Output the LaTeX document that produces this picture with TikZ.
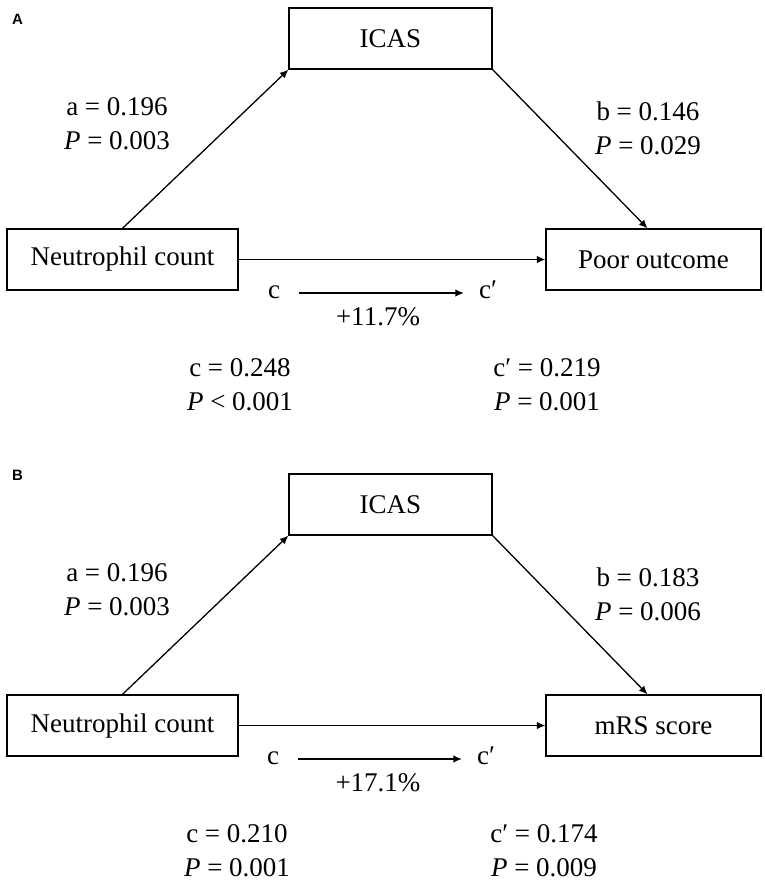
\documentclass[tikz,border=0pt]{standalone}
\usepackage{fontspec}
\setmainfont{Liberation Serif}
\newfontfamily\panelfont{Liberation Sans}
\usetikzlibrary{arrows.meta}
\tikzset{>={Latex[length=8.5pt,width=7.5pt]}}

\begin{document}
\begin{tikzpicture}[
    x = 1pt, y = -1pt,
    box/.style = {draw, line width = 1.3pt, minimum height = 61pt, inner sep = 0pt, font = \fontsize{27}{32}\selectfont},
    lbl/.style = {align = center, inner sep = 0pt, font = \fontsize{27}{34}\selectfont},
    cc/.style = {anchor = base, inner sep = 0pt, font = \fontsize{27}{34}\selectfont},
    arr/.style = {->, line width = 1.3pt},
    tag/.style = {inner sep = 0pt, font = \panelfont\bfseries\fontsize{15}{17}\selectfont},
]
\useasboundingbox (0,0) rectangle (765,883);

% panel A
\begin{scope}
\node[tag] (tagA) at (17.5,19) {A};
\node[box, minimum width = 203pt] (icasA) at (390.5,38.5) {ICAS};
\node[box, minimum width = 231pt] (ncA) at (122.5,259.5) {Neutrophil count};
\node[box, minimum width = 215pt] (poA) at (653.5,259.5) {Poor outcome};

\draw[arr] (ncA.north) -- (icasA.south west);
\draw[arr] (icasA.south east) -- ([xshift=-6pt]poA.north);
\draw[arr] (ncA.east) -- (poA.west);

\node[lbl] (aA) at (117,124) {a = 0.196\\\textit{P} = 0.003};
\node[lbl] (bA) at (648,128) {b = 0.146\\\textit{P} = 0.029};

\node[cc] (cA) at (274,298) {c};
\node[cc] (cpA) at (488,298) {c′};
\draw[arr, shorten <= 19pt, shorten >= 15pt] ([yshift=5pt]cA.base east) -- ([yshift=5pt]cpA.base west);
\node[cc] (pctA) at (378,325) {+11.7\%};

\node[lbl] (ctA) at (240,385) {c = 0.248\\\textit{P} < 0.001};
\node[lbl] (cdA) at (547,385) {c′ = 0.219\\\textit{P} = 0.001};
\end{scope}

% panel B
\begin{scope}[shift = {(0,466)}]
\node[tag] (tagB) at (17.5,9.5) {B};
\node[box, minimum width = 203pt] (icasB) at (390.5,38.5) {ICAS};
\node[box, minimum width = 231pt] (ncB) at (122.5,259.5) {Neutrophil count};
\node[box, minimum width = 215pt] (mrsB) at (653.5,259.5) {mRS score};

\draw[arr] (ncB.north) -- (icasB.south west);
\draw[arr] (icasB.south east) -- ([xshift=-6pt]mrsB.north);
\draw[arr] (ncB.east) -- (mrsB.west);

\node[lbl] (aB) at (117,124) {a = 0.196\\\textit{P} = 0.003};
\node[lbl] (bB) at (648,128) {b = 0.183\\\textit{P} = 0.006};

\node[cc] (cB) at (273,298) {c};
\node[cc] (cpB) at (486,298) {c′};
\draw[arr, shorten <= 19pt, shorten >= 15pt] ([yshift=5pt]cB.base east) -- ([yshift=5pt]cpB.base west);
\node[cc] (pctB) at (378,325) {+17.1\%};

\node[lbl] (ctB) at (237,385) {c = 0.210\\\textit{P} = 0.001};
\node[lbl] (cdB) at (544,385) {c′ = 0.174\\\textit{P} = 0.009};
\end{scope}

\end{tikzpicture}
\end{document}
